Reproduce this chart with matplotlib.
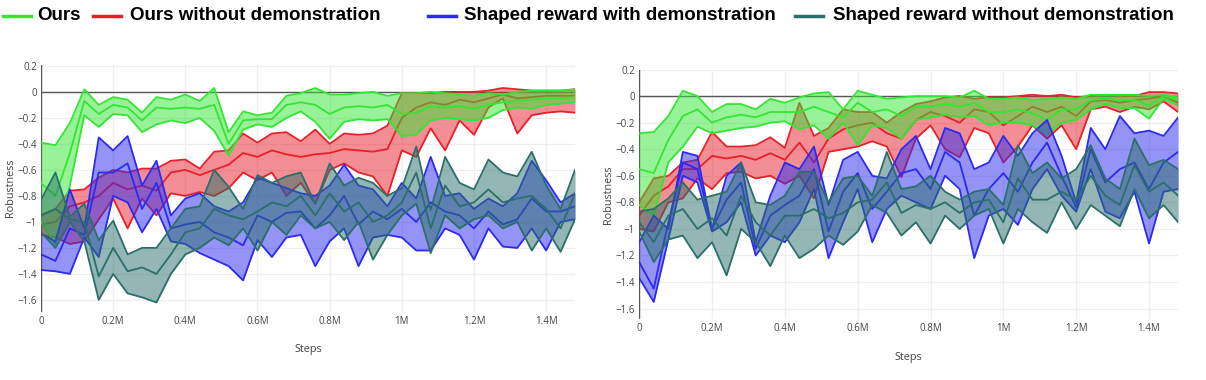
import numpy as np
import matplotlib
matplotlib.use('Agg')
import matplotlib.pyplot as plt
from matplotlib.lines import Line2D
from matplotlib.ticker import FuncFormatter, MultipleLocator

# ---------- data (0.04M step grid) ----------
steps = np.arange(38) * 40000

# left panel
L_ours_hi = [-0.39, -0.41, -0.24, 0.02, -0.10, -0.04, -0.06, -0.16, -0.04, -0.06,
             -0.02, -0.07, 0.03, -0.31, -0.15, -0.18, -0.16, -0.03, -0.01, 0.03,
             -0.02, -0.02, -0.01, 0.00, -0.03, -0.01, -0.01, 0.00, -0.01, -0.02,
             -0.03, -0.01, -0.02, 0.00, 0.01, 0.01, 0.01, 0.02]
L_ours_mid = [-0.70, -0.80, -0.47, -0.07, -0.17, -0.10, -0.12, -0.22, -0.12, -0.13,
              -0.12, -0.13, -0.10, -0.40, -0.22, -0.21, -0.21, -0.10, -0.08, -0.10,
              -0.17, -0.12, -0.11, -0.12, -0.10, -0.17, -0.16, -0.11, -0.12, -0.11,
              -0.13, -0.10, -0.08, -0.07, -0.06, -0.05, -0.05, -0.04]
L_ours_lo = [-1.00, -1.17, -0.72, -0.18, -0.27, -0.17, -0.18, -0.31, -0.25, -0.22,
             -0.24, -0.20, -0.30, -0.49, -0.29, -0.25, -0.27, -0.20, -0.15, -0.23,
             -0.36, -0.23, -0.21, -0.22, -0.21, -0.34, -0.33, -0.22, -0.20, -0.21,
             -0.22, -0.20, -0.14, -0.12, -0.13, -0.10, -0.09, -0.08]

L_nodemo_hi = [-0.95, -0.90, -0.76, -0.75, -0.66, -0.60, -0.62, -0.59, -0.59, -0.53,
               -0.52, -0.59, -0.46, -0.45, -0.32, -0.39, -0.32, -0.31, -0.38, -0.29,
               -0.40, -0.32, -0.33, -0.32, -0.26, -0.01, -0.01, -0.01, 0.00, 0.00,
               0.00, 0.01, 0.03, 0.02, 0.01, 0.01, 0.01, 0.02]
L_nodemo_mid = [-1.02, -1.00, -0.88, -0.85, -0.80, -0.70, -0.75, -0.72, -0.76, -0.62,
                -0.60, -0.64, -0.60, -0.56, -0.47, -0.50, -0.45, -0.48, -0.50, -0.48,
                -0.47, -0.44, -0.45, -0.46, -0.44, -0.20, -0.12, -0.08, -0.10, -0.06,
                -0.08, -0.05, -0.02, -0.05, -0.04, -0.03, -0.03, -0.03]
L_nodemo_lo = [-1.10, -1.12, -1.17, -1.15, -0.98, -0.82, -1.05, -0.82, -0.95, -0.78,
               -0.80, -0.77, -0.80, -0.74, -0.62, -0.68, -0.62, -0.80, -0.70, -0.86,
               -0.60, -0.55, -0.62, -0.65, -0.80, -0.45, -0.50, -0.28, -0.45, -0.22,
               -0.33, -0.12, -0.05, -0.32, -0.18, -0.16, -0.15, -0.16]

L_shaped_hi = [-1.09, -1.15, -0.75, -1.05, -0.35, -0.45, -0.34, -0.72, -0.53, -0.95,
               -0.82, -0.78, -0.88, -0.92, -0.85, -0.66, -0.70, -0.74, -0.78, -0.80,
               -0.72, -0.56, -0.72, -0.75, -0.88, -0.70, -0.82, -0.50, -0.80, -0.78,
               -0.90, -0.82, -0.88, -0.78, -0.53, -0.68, -0.85, -0.78]
L_shaped_mid = [-1.25, -1.30, -1.05, -1.10, -0.62, -0.62, -0.55, -0.90, -0.70, -1.05,
                -1.02, -1.00, -1.08, -1.12, -1.18, -0.95, -1.00, -0.93, -0.92, -1.05,
                -0.95, -0.80, -1.02, -0.92, -0.98, -0.90, -1.00, -0.85, -0.92, -0.95,
                -1.05, -0.92, -1.02, -0.98, -0.82, -0.92, -0.92, -0.88]
L_shaped_lo = [-1.37, -1.38, -1.40, -1.12, -1.27, -0.80, -0.85, -1.08, -0.90, -1.15,
               -1.17, -1.24, -1.29, -1.34, -1.45, -1.14, -1.27, -1.12, -1.10, -1.34,
               -1.15, -1.05, -1.34, -1.12, -1.10, -1.12, -1.22, -1.22, -1.05, -1.10,
               -1.29, -1.05, -1.19, -1.20, -1.05, -1.22, -1.00, -0.98]

L_shnodemo_hi = [-0.83, -0.62, -0.96, -0.86, -1.14, -0.99, -1.25, -1.20, -1.20, -1.05,
                 -0.90, -0.88, -0.60, -0.73, -0.90, -0.64, -0.70, -0.65, -0.62, -0.86,
                 -0.55, -0.72, -0.66, -0.70, -0.80, -0.74, -0.42, -0.91, -0.50, -0.70,
                 -0.75, -0.52, -0.62, -0.65, -0.46, -0.72, -0.90, -0.60]
L_shnodemo_mid = [-0.95, -0.90, -0.98, -1.00, -1.42, -1.20, -1.38, -1.35, -1.40, -1.25,
                  -1.08, -1.05, -0.90, -0.95, -0.98, -0.92, -0.85, -0.88, -0.80, -0.95,
                  -0.78, -0.92, -0.85, -1.00, -0.95, -0.85, -0.62, -1.05, -0.72, -0.88,
                  -0.85, -0.75, -0.85, -0.82, -0.80, -0.90, -1.05, -0.78]
L_shnodemo_lo = [-1.08, -1.20, -1.00, -1.15, -1.60, -1.40, -1.55, -1.58, -1.62, -1.40,
                 -1.25, -1.20, -1.12, -1.18, -1.05, -1.22, -1.00, -1.10, -0.95, -1.05,
                 -1.00, -1.14, -1.00, -1.29, -1.10, -0.95, -0.86, -1.24, -0.95, -1.05,
                 -0.98, -0.95, -1.05, -1.00, -1.22, -1.05, -1.23, -0.98]

# right panel
R_ours_hi = [-0.28, -0.27, -0.15, 0.04, 0.00, -0.12, -0.06, -0.06, -0.10, -0.02,
             -0.05, -0.01, 0.02, 0.03, -0.10, 0.04, 0.01, -0.02, -0.01, 0.00,
             0.00, 0.00, -0.01, 0.04, -0.02, -0.02, -0.01, -0.03, -0.02, -0.01,
             -0.02, 0.01, 0.01, 0.01, 0.01, 0.00, 0.01, -0.01]
R_ours_mid = [-0.55, -0.58, -0.33, -0.15, -0.10, -0.20, -0.16, -0.14, -0.16, -0.12,
              -0.12, -0.12, -0.08, -0.12, -0.16, -0.05, -0.12, -0.10, -0.15, -0.08,
              -0.08, -0.06, -0.08, -0.05, -0.12, -0.12, -0.10, -0.13, -0.18, -0.10,
              -0.10, -0.03, -0.02, -0.03, -0.03, -0.07, 0.00, -0.03]
R_ours_lo = [-0.82, -0.90, -0.50, -0.38, -0.23, -0.28, -0.26, -0.24, -0.23, -0.20,
             -0.19, -0.25, -0.22, -0.32, -0.20, -0.37, -0.22, -0.24, -0.32, -0.18,
             -0.16, -0.14, -0.16, -0.15, -0.22, -0.20, -0.20, -0.22, -0.29, -0.20,
             -0.18, -0.10, -0.06, -0.09, -0.09, -0.17, -0.02, -0.07]

R_nodemo_hi = [-0.80, -0.62, -0.60, -0.50, -0.48, -0.27, -0.38, -0.38, -0.37, -0.31,
               -0.39, -0.05, -0.30, -0.24, -0.10, -0.12, -0.12, -0.20, -0.12, -0.06,
               -0.04, -0.01, 0.00, -0.02, -0.01, -0.01, 0.00, 0.01, 0.00, 0.01,
               -0.01, 0.00, 0.01, 0.00, 0.00, 0.03, 0.03, 0.02]
R_nodemo_mid = [-0.90, -0.75, -0.68, -0.55, -0.55, -0.45, -0.47, -0.45, -0.48, -0.43,
                -0.48, -0.35, -0.50, -0.32, -0.25, -0.22, -0.20, -0.28, -0.32, -0.18,
                -0.12, -0.15, -0.20, -0.10, -0.12, -0.22, -0.15, -0.08, -0.12, -0.08,
                -0.15, -0.04, -0.03, -0.05, -0.03, -0.02, 0.00, -0.05]
R_nodemo_lo = [-1.00, -1.02, -0.80, -0.77, -0.62, -0.70, -0.58, -0.57, -0.62, -0.60,
               -0.66, -0.60, -0.77, -0.42, -0.40, -0.38, -0.34, -0.38, -0.61, -0.32,
               -0.22, -0.40, -0.46, -0.24, -0.28, -0.50, -0.38, -0.22, -0.32, -0.22,
               -0.40, -0.10, -0.08, -0.12, -0.08, -0.10, -0.04, -0.12]

R_shaped_hi = [-1.10, -0.90, -1.00, -0.42, -0.45, -1.00, -0.60, -0.50, -1.10, -0.75,
               -0.50, -0.55, -0.38, -0.82, -0.48, -0.42, -0.60, -0.62, -0.40, -0.30,
               -0.55, -0.24, -0.28, -0.55, -0.50, -0.30, -0.45, -0.28, -0.18, -0.45,
               -0.80, -0.24, -0.40, -0.15, -0.28, -0.26, -0.30, -0.16]
R_shaped_mid = [-1.25, -1.45, -0.95, -0.50, -0.55, -1.00, -0.78, -0.65, -1.15, -0.90,
                -0.82, -0.75, -0.55, -1.02, -0.72, -0.58, -0.85, -0.72, -0.58, -0.55,
                -0.70, -0.42, -0.50, -0.90, -0.70, -0.58, -0.72, -0.50, -0.35, -0.60,
                -0.84, -0.40, -0.65, -0.55, -0.50, -0.70, -0.50, -0.42]
R_shaped_lo = [-1.37, -1.55, -1.08, -0.60, -0.65, -1.02, -0.95, -0.80, -1.20, -1.05,
               -1.10, -0.95, -0.70, -1.22, -0.95, -0.70, -1.10, -0.85, -0.75, -0.80,
               -0.85, -0.60, -0.70, -1.22, -0.90, -0.85, -0.97, -0.70, -0.55, -0.75,
               -0.87, -0.55, -0.87, -0.92, -0.72, -1.11, -0.72, -0.70]

R_shnodemo_hi = [-0.87, -0.85, -0.77, -0.65, -0.78, -0.75, -0.72, -0.50, -0.80, -0.82,
                 -0.75, -0.57, -0.57, -0.80, -0.62, -0.60, -0.75, -0.42, -0.70, -0.68,
                 -0.60, -0.72, -0.78, -0.72, -0.70, -0.82, -0.37, -0.58, -0.50, -0.62,
                 -0.55, -0.37, -0.62, -0.70, -0.32, -0.52, -0.48, -0.55]
R_shnodemo_mid = [-0.95, -1.10, -0.90, -0.85, -1.00, -0.92, -1.05, -0.75, -0.95, -1.05,
                  -0.90, -0.90, -0.85, -0.92, -0.88, -0.80, -0.78, -0.65, -0.88, -0.82,
                  -0.85, -0.80, -0.88, -0.80, -0.78, -0.95, -0.62, -0.78, -0.78, -0.72,
                  -0.78, -0.60, -0.75, -0.82, -0.52, -0.72, -0.65, -0.75]
R_shnodemo_lo = [-1.02, -1.25, -1.08, -1.05, -1.22, -1.10, -1.35, -1.00, -1.10, -1.28,
                 -1.05, -1.22, -1.15, -1.05, -1.12, -1.02, -0.82, -0.88, -1.05, -0.95,
                 -1.11, -0.90, -1.00, -0.90, -0.85, -1.11, -0.85, -0.95, -1.03, -0.80,
                 -1.00, -0.82, -0.90, -0.98, -0.70, -0.92, -0.82, -0.95]

labels = ['Ours', 'Ours without demonstration',
          'Shaped reward with demonstration', 'Shaped reward without demonstration']
line_colors = ['#33e633', '#e8202a', '#2a2af0', '#2b6f6a']

left_series = {
    'Ours': (L_ours_lo, L_ours_mid, L_ours_hi),
    'Ours without demonstration': (L_nodemo_lo, L_nodemo_mid, L_nodemo_hi),
    'Shaped reward with demonstration': (L_shaped_lo, L_shaped_mid, L_shaped_hi),
    'Shaped reward without demonstration': (L_shnodemo_lo, L_shnodemo_mid, L_shnodemo_hi),
}
right_series = {
    'Ours': (R_ours_lo, R_ours_mid, R_ours_hi),
    'Ours without demonstration': (R_nodemo_lo, R_nodemo_mid, R_nodemo_hi),
    'Shaped reward with demonstration': (R_shaped_lo, R_shaped_mid, R_shaped_hi),
    'Shaped reward without demonstration': (R_shnodemo_lo, R_shnodemo_mid, R_shnodemo_hi),
}

plt.rcParams['font.family'] = ['Open Sans', 'DejaVu Sans']

W, H = 1206, 380
fig = plt.figure(figsize=(W / 100, H / 100), dpi=100)
ax_l = fig.add_axes([0.034, 0.180, 0.4428, 0.650])
ax_r = fig.add_axes([0.530, 0.160, 0.4469, 0.657])

draw_order = [1, 0, 2, 3]


def style_axis(ax, ylim):
    ax.set_xlim(0, 1.48e6)
    ax.set_ylim(*ylim)
    for s in ax.spines.values():
        s.set_visible(False)
    ax.xaxis.set_major_locator(MultipleLocator(200000))
    ax.yaxis.set_major_locator(MultipleLocator(0.2))
    ax.xaxis.set_major_formatter(FuncFormatter(
        lambda v, _: '0' if abs(v) < 1 else f'{v / 1e6:g}M'))
    ax.yaxis.set_major_formatter(FuncFormatter(
        lambda v, _: '0' if abs(v) < 1e-9 else f'{v:g}'.replace('-', '\u2212')))
    ax.tick_params(length=0, labelsize=7, labelcolor='#444444', pad=3)
    ax.grid(True, color='#eeeeee', linewidth=0.9)
    ax.set_axisbelow(True)
    ax.axhline(0, color='#555555', linewidth=1.0, zorder=1)
    ax.axvline(0, color='#555555', linewidth=1.0, zorder=1)
    ax.set_xlabel('Steps', fontsize=7.8, color='#444444', labelpad=12.5)
    ax.set_ylabel('Robustness', fontsize=7.8, color='#444444', labelpad=1)


for ax, series, ylim in [(ax_l, left_series, (-1.69, 0.21)),
                         (ax_r, right_series, (-1.68, 0.20))]:
    style_axis(ax, ylim)
    for i in draw_order:
        lo, mid, hi = series[labels[i]]
        c = line_colors[i]
        ax.fill_between(steps, lo, hi, color=c, alpha=0.5, linewidth=0, zorder=2)
        for s in (lo, mid, hi):
            ax.plot(steps, s, color=c, linewidth=1.3, zorder=2)

# legend row across the top (pixel positions of handle / text starts)
handle_x = [3, 93, 428, 795]
text_x = [37, 130, 464, 833]
ly = 1 - 16 / H
for hx, tx, c, lab in zip(handle_x, text_x, line_colors, labels):
    fig.add_artist(Line2D([hx / W, (hx + 28) / W], [ly, ly], color=c,
                          linewidth=2.5, transform=fig.transFigure))
    fig.text(tx / W, ly, lab, ha='left', va='center', fontsize=13.5,
             fontweight='bold', family='Liberation Sans', color='black')

fig.savefig('out.png', dpi=100)
